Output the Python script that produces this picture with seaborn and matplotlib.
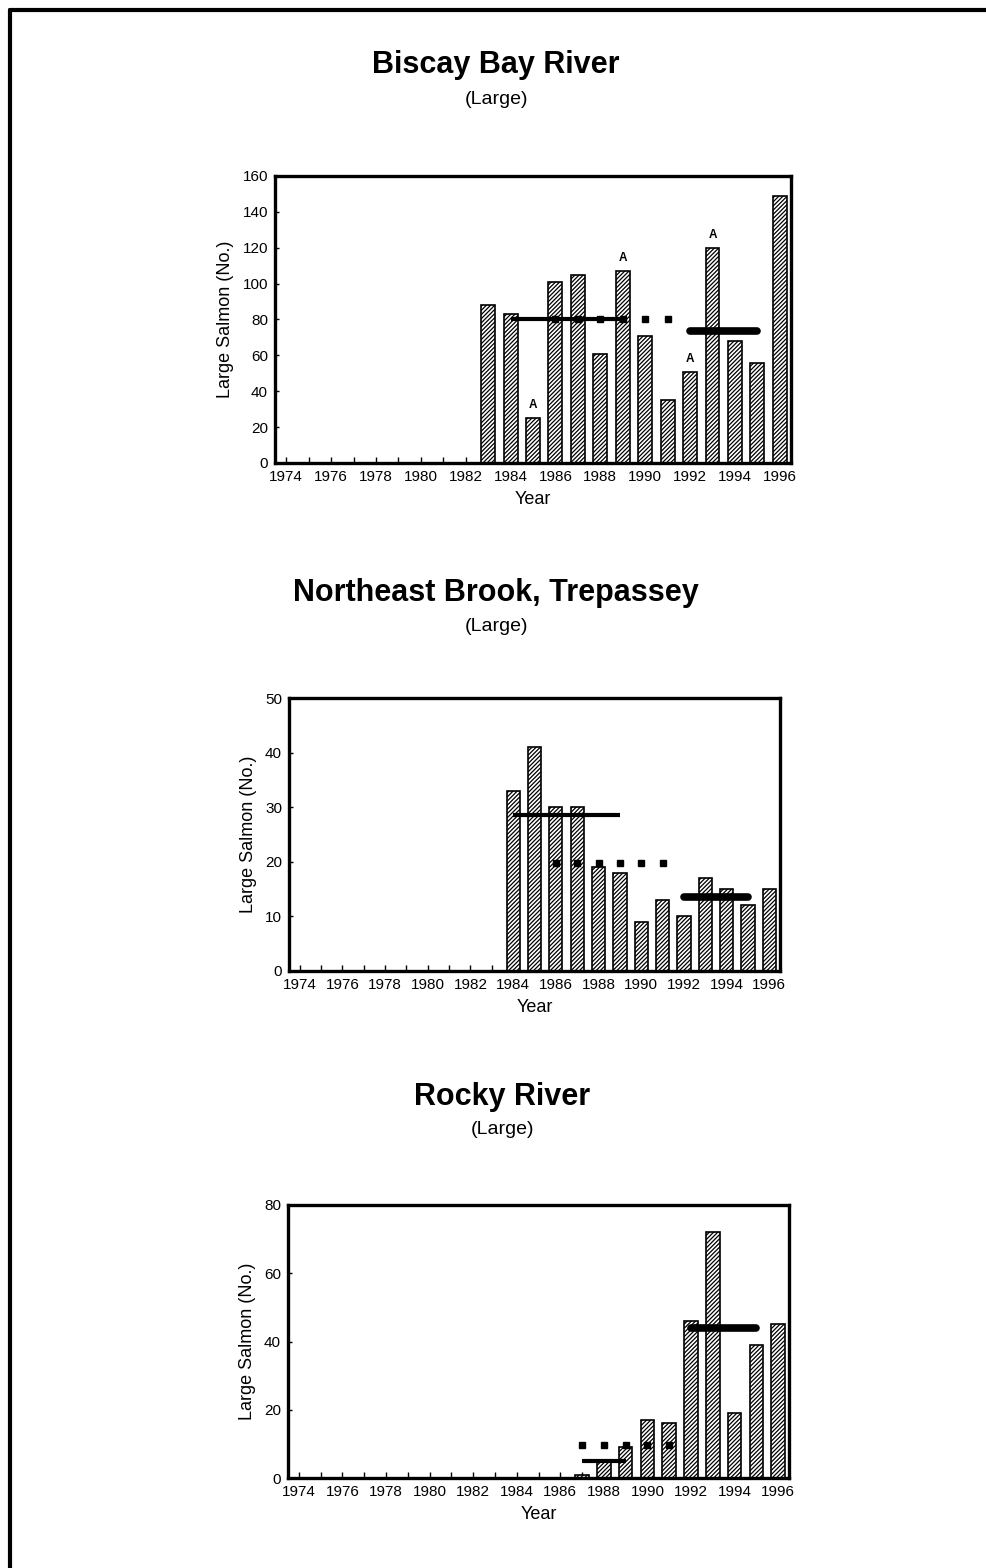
import numpy as np
import pandas as pd
import matplotlib
matplotlib.use("Agg")
import matplotlib.pyplot as plt
import seaborn as sns
from matplotlib.lines import Line2D

# Year axis shared by all three panels
years = list(range(1974, 1997))

# Biscay Bay River, large salmon counts
biscay_years = list(range(1983, 1997))
biscay_counts = [88, 83, 25, 101, 105, 61, 107, 71, 35, 51, 120, 68, 56, 149]
biscay_flagged = [1985, 1989, 1992, 1993]

# Northeast Brook, Trepassey, large salmon counts
northeast_years = list(range(1984, 1997))
northeast_counts = [33, 41, 30, 30, 19, 18, 9, 13, 10, 17, 15, 12, 15]

# Rocky River, large salmon counts
rocky_years = list(range(1987, 1997))
rocky_counts = [1, 5, 9, 17, 16, 46, 72, 19, 39, 45]

# Averaging periods drawn as reference lines: (first year, last year)
biscay_periods = {"solid": (1984, 1989), "dotted": (1986, 1991), "thick": (1992, 1995)}
northeast_periods = {"solid": (1984, 1989), "dotted": (1986, 1991), "thick": (1992, 1995)}
rocky_periods = {"solid": (1987, 1989), "dotted": (1987, 1991), "thick": (1992, 1995)}

titles = ["Biscay Bay River", "Northeast Brook, Trepassey", "Rocky River"]
subtitle = "(Large)"

sns.set_theme(style="white")
plt.rcParams["font.family"] = ["Liberation Sans", "DejaVu Sans"]
plt.rcParams["hatch.linewidth"] = 0.9
for key in ["text.color", "axes.labelcolor", "xtick.color", "ytick.color"]:
    plt.rcParams[key] = "black"

W, H = 986, 1568
fig = plt.figure(figsize=(W / 100, H / 100), dpi=100)
fig.patch.set_facecolor("white")


def axes_box(left, top, right, bottom):
    return [left / W, 1 - bottom / H, (right - left) / W, (bottom - top) / H]


def period_mean(yrs, counts, period):
    a, b = period
    vals = [c for y, c in zip(yrs, counts) if a <= y <= b]
    return float(np.mean(vals))


def draw_panel(ax, yrs, counts, ymax, ystep, periods, flagged=()):
    order = [str(y) for y in years]
    df = pd.DataFrame({"Year": [str(y) for y in yrs], "Count": counts})
    sns.barplot(data=df, x="Year", y="Count", order=order, ax=ax,
                color="white", edgecolor="black", linewidth=1.2,
                width=0.62, saturation=1, errorbar=None)
    for p in ax.patches:
        p.set_hatch("////////")

    pos = {y: i for i, y in enumerate(years)}

    # period means
    a, b = periods["solid"]
    m = period_mean(yrs, counts, periods["solid"])
    ax.plot([pos[a], pos[b]], [m, m], color="black", lw=3, solid_capstyle="butt", zorder=4)

    a, b = periods["dotted"]
    m = period_mean(yrs, counts, periods["dotted"])
    xs = [pos[y] for y in range(a, b + 1)]
    ax.plot(xs, [m] * len(xs), ls="none", marker="s", ms=4.5, color="black", zorder=5)

    a, b = periods["thick"]
    m = period_mean(yrs, counts, periods["thick"])
    ax.plot([pos[a], pos[b]], [m, m], color="black", lw=5.5, solid_capstyle="round", zorder=4)

    for y in flagged:
        v = counts[yrs.index(y)]
        ax.annotate("A", (pos[y], v), xytext=(0, 5), textcoords="offset points",
                    ha="center", va="bottom", fontsize=8.5, fontweight="bold")

    ax.set_xlim(-0.5, len(years) - 0.5)
    ax.set_ylim(0, ymax)
    ax.set_yticks(np.arange(0, ymax + 1, ystep))
    ax.set_xticks(range(0, len(years), 2))
    ax.set_xticklabels([str(y) for y in years[::2]])
    ax.set_xticks(range(len(years)), minor=True)
    ax.tick_params(axis="x", which="both", direction="in", length=4, width=1,
                   color="black", labelsize=11, pad=5, bottom=True)
    ax.tick_params(axis="y", which="both", direction="in", length=3, width=1,
                   color="black", labelsize=11, pad=5, left=True)
    for s in ax.spines.values():
        s.set_visible(True)
        s.set_color("black")
        s.set_linewidth(2.4)
    ax.set_xlabel("Year", fontsize=13, labelpad=5)
    ax.set_ylabel("Large Salmon (No.)", fontsize=13, labelpad=6)
    ax.set_facecolor("white")


ax1 = fig.add_axes(axes_box(275, 176, 791, 463))
draw_panel(ax1, biscay_years, biscay_counts, 160, 20, biscay_periods, biscay_flagged)

ax2 = fig.add_axes(axes_box(289, 698, 780, 971))
draw_panel(ax2, northeast_years, northeast_counts, 50, 10, northeast_periods)

ax3 = fig.add_axes(axes_box(288, 1205, 789, 1478))
draw_panel(ax3, rocky_years, rocky_counts, 80, 20, rocky_periods)

# Panel headings
for (title, ty, sy, cx) in zip(titles, [65, 593, 1097], [100, 626, 1130], [496, 496, 502]):
    fig.text(cx / W, 1 - ty / H, title, ha="center", va="center",
             fontsize=22, fontweight="bold")
    fig.text(cx / W, 1 - sy / H, subtitle, ha="center", va="center", fontsize=14)

# Page frame
fig.add_artist(Line2D([10 / W, 10 / W], [0, 1 - 10 / H], transform=fig.transFigure,
                      color="black", lw=3))
fig.add_artist(Line2D([10 / W, 1], [1 - 10 / H, 1 - 10 / H], transform=fig.transFigure,
                      color="black", lw=3))

fig.savefig("out.png", dpi=100, facecolor="white")
